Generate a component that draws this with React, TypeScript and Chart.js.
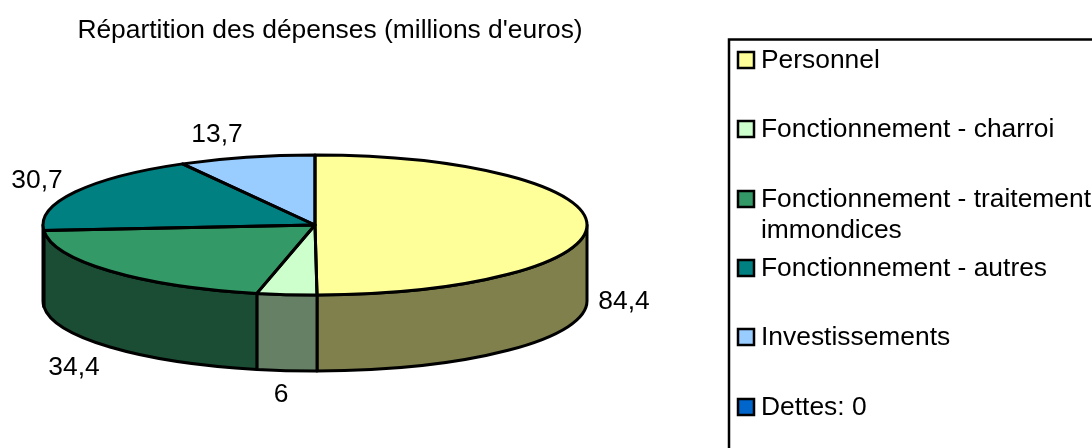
import React, { useEffect, useRef } from "react";
import { Chart, registerables } from "chart.js";

Chart.register(...registerables);

const categories = [
  "Personnel",
  "Fonctionnement - charroi",
  ["Fonctionnement - traitement", "immondices"],
  "Fonctionnement - autres",
  "Investissements",
  "Dettes: 0",
];
const values = [84.4, 6, 34.4, 30.7, 13.7, 0];
const valueTexts = ["84,4", "6", "34,4", "30,7", "13,7", ""];
const faceColors = ["#FFFF99", "#CCFFCC", "#339966", "#008080", "#99CCFF", "#0066CC"];
const sideColors = ["#80804D", "#668066", "#1A4D33", "#004040", "#4D6680", "#003366"];
const legendRows = [60, 129, 199, 268, 337, 407];
const labelSpots = [
  [624, 302],
  [281, 395],
  [74, 368],
  [37, 181],
  [217, 135],
];

const CX = 315, CY = 225, RX = 272, RY = 70, DEPTH = 76;
const FONT = "26.4px 'Liberation Sans', Arial, sans-serif";

const pie3d = {
  id: "pie3d",
  beforeDatasetsDraw(chart: any) {
    const ctx = chart.ctx;
    const arcs = chart.getDatasetMeta(0).data;
    const a0 = arcs[0];
    const k = RY / RX;
    ctx.save();
    ctx.lineWidth = 3;
    ctx.lineJoin = "round";
    ctx.strokeStyle = "#000";
    arcs.forEach((arc: any, i: number) => {
      const s = Math.max(arc.startAngle, 0);
      const e = Math.min(arc.endAngle, Math.PI);
      if (e <= s) return;
      ctx.beginPath();
      ctx.ellipse(CX, CY, RX, RY, 0, s, e);
      ctx.ellipse(CX, CY + DEPTH, RX, RY, 0, e, s, true);
      ctx.closePath();
      ctx.fillStyle = sideColors[i];
      ctx.fill();
      ctx.stroke();
    });
    ctx.restore();
    ctx.save();
    ctx.translate(CX, CY);
    ctx.scale(1, k);
    ctx.translate(-a0.x, -a0.y);
  },
  afterDatasetsDraw(chart: any) {
    const ctx = chart.ctx;
    ctx.restore();
    const arcs = chart.getDatasetMeta(0).data;
    ctx.save();
    ctx.lineWidth = 3;
    ctx.lineJoin = "round";
    ctx.strokeStyle = "#000";
    arcs.forEach((arc: any) => {
      if (arc.endAngle - arc.startAngle <= 0) return;
      ctx.beginPath();
      ctx.moveTo(CX, CY);
      ctx.lineTo(CX + RX * Math.cos(arc.startAngle), CY + RY * Math.sin(arc.startAngle));
      ctx.ellipse(CX, CY, RX, RY, 0, arc.startAngle, arc.endAngle);
      ctx.closePath();
      ctx.stroke();
    });
    ctx.fillStyle = "#000";
    ctx.font = FONT;
    ctx.textAlign = "center";
    ctx.textBaseline = "middle";
    labelSpots.forEach((p, i) => ctx.fillText(valueTexts[i], p[0], p[1]));
    ctx.lineWidth = 2.5;
    ctx.lineJoin = "miter";
    ctx.strokeRect(729, 39.5, 400, 440);
    ctx.textAlign = "left";
    chart.data.labels.forEach((lab: any, i: number) => {
      const y = legendRows[i];
      ctx.fillStyle = faceColors[i];
      ctx.fillRect(738, y - 8, 16, 16);
      ctx.strokeRect(738, y - 8, 16, 16);
      ctx.fillStyle = "#000";
      const lines = Array.isArray(lab) ? lab : [lab];
      lines.forEach((t: string, j: number) => ctx.fillText(t, 761, y + 1 + j * 31));
    });
    ctx.restore();
  },
};

export default function App() {
  const ref = useRef<HTMLCanvasElement>(null);
  useEffect(() => {
    document.body.style.margin = "0";
    const chart = new Chart(ref.current!, {
      type: "pie",
      data: {
        labels: categories as any,
        datasets: [
          {
            data: values,
            backgroundColor: faceColors,
            borderWidth: 0,
            radius: RX,
            clip: false,
          } as any,
        ],
      },
      plugins: [pie3d],
      options: {
        responsive: false,
        animation: false,
        layout: { padding: { left: 0, right: 432, top: 0, bottom: 0 } },
        plugins: {
          legend: { display: false },
          tooltip: { enabled: false },
          title: {
            display: true,
            text: "Répartition des dépenses (millions d'euros)",
            color: "#000",
            font: { family: "'Liberation Sans', Arial, sans-serif", size: 26.4, weight: "normal" },
            padding: { top: 15, bottom: 0 },
          },
        },
      },
    } as any);
    return () => chart.destroy();
  }, []);
  return <canvas ref={ref} width={1092} height={448} style={{ display: "block" }} />;
}
